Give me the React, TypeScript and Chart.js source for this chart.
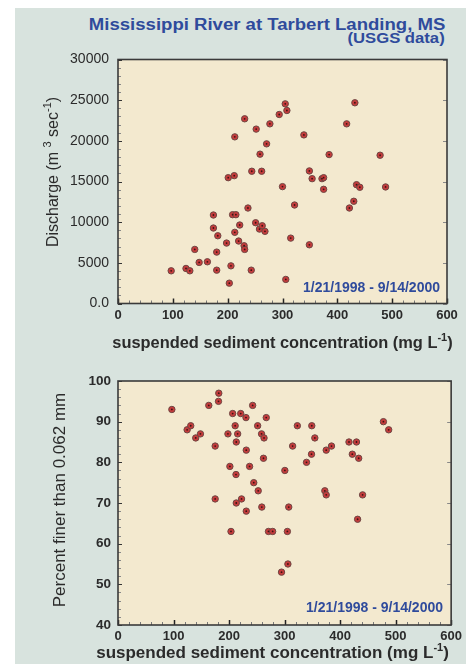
import { useEffect, useRef } from 'react';
import { Chart, registerables } from 'chart.js';

Chart.register(...registerables);

// ---------- data ----------
const topConcentration = [
  97, 124, 131, 140, 148, 163, 174, 174, 182, 180, 180, 198, 201, 212, 213, 209, 215, 213, 222, 220,
  206, 203, 231, 230, 231, 237, 243, 244, 252, 251, 259, 262, 258, 263, 268, 271, 277, 294, 300, 305,
  308, 306, 322, 315, 339, 349, 349, 354, 385, 372, 375, 375, 417, 432, 435, 441, 430, 422, 478, 488,
];
const topDischarge = [
  4020, 4310, 4020, 6650, 5050, 5130, 10880, 9280, 8330, 6320, 4100, 7430, 15470, 15720, 20490, 10920, 10920, 8750, 9650, 7680,
  4630, 2500, 22710, 7100, 6650, 11740, 4100, 16260, 21440, 9930, 18360, 16260, 9150, 9560, 8870, 19630, 22090, 23240, 14370, 24550,
  23730, 2960, 12110, 8040, 20730, 7220, 16300, 15350, 18310, 15350, 15470, 14040, 22090, 24680, 14610, 14290, 12570, 11740, 18230, 14330,
];

const bottomConcentration = [
  97, 124.5, 131, 140, 148.5, 163.5, 181.5, 181, 175, 175, 198, 206.5, 211, 215.5, 213, 221, 230.5, 231, 242.5, 201.5,
  212.5, 237, 251.5, 258.5, 263, 267, 262, 244.5, 252.5, 222.5, 213, 231, 259, 203.5, 271, 278.5, 300.5, 307.5, 305, 306,
  294.5, 314.5, 323, 349, 354.5, 348.5, 339.5, 375, 384.5, 372.5, 375, 416, 429.5, 422, 433.5, 440.5, 431.5, 478, 487.5,
];
const bottomPercentFiner = [
  93, 88, 89, 86, 87, 94, 97, 95, 84, 71, 87, 92, 89, 87, 85, 92, 91, 83, 94, 79,
  77, 79, 89, 87, 86, 91, 81, 75, 73, 71, 70, 68, 69, 63, 63, 63, 78, 69, 63, 55,
  53, 84, 89, 89, 86, 82, 80, 83, 84, 73, 72, 85, 85, 82, 81, 72, 66, 90, 88,
];

const xTickLabels = ['0', '100', '200', '300', '400', '500', '600'];
const topYTickLabels = ['0.0', '5000', '10000', '15000', '20000', '25000', '30000'];
const bottomYTickLabels = ['40', '50', '60', '70', '80', '90', '100'];

const mainTitle = 'Mississippi River at Tarbert Landing, MS';
const subTitle = '(USGS data)';
const dateRange = '1/21/1998 - 9/14/2000';

// ---------- styling ----------
const FONT = 'Arial, "Liberation Sans", Helvetica, sans-serif';
const PANEL_BG = '#d8e3de';
const PLOT_BG = '#f3e9cf';
const BLUE = '#2f4b9c';
const TEXT = '#2b2b2b';

type Part = { t: string; sup?: boolean };

function drawRich(ctx: CanvasRenderingContext2D, parts: Part[], x: number, y: number, size: number, weight: string, align: 'left' | 'center' | 'right', color: string) {
  const supSize = Math.round(size * 0.66);
  const widths = parts.map((p) => {
    ctx.font = `${weight} ${p.sup ? supSize : size}px ${FONT}`;
    return ctx.measureText(p.t).width;
  });
  const total = widths.reduce((a, b) => a + b, 0);
  let cx = align === 'center' ? x - total / 2 : align === 'right' ? x - total : x;
  ctx.textAlign = 'left';
  ctx.textBaseline = 'alphabetic';
  ctx.fillStyle = color;
  parts.forEach((p, i) => {
    ctx.font = `${weight} ${p.sup ? supSize : size}px ${FONT}`;
    ctx.fillText(p.t, cx, p.sup ? y - size * 0.42 : y);
    cx += widths[i];
  });
}

const decorPlugin = {
  id: 'decor',
  beforeDraw(chart: any) {
    const { ctx, chartArea: a } = chart;
    ctx.save();
    ctx.fillStyle = PLOT_BG;
    ctx.fillRect(a.left, a.top, a.right - a.left, a.bottom - a.top);
    ctx.restore();
  },
  afterDatasetsDraw(chart: any, _args: any, opts: any) {
    const { ctx, chartArea: a } = chart;
    ctx.save();
    // centre dots of markers
    const meta = chart.getDatasetMeta(0);
    ctx.fillStyle = '#3c1414';
    meta.data.forEach((el: any) => {
      ctx.beginPath();
      ctx.arc(el.x, el.y, 0.9, 0, Math.PI * 2);
      ctx.fill();
    });
    // inward ticks
    const xs = chart.scales.x;
    const ys = chart.scales.y;
    const isMajor = (v: number, step: number) => Math.abs(v / step - Math.round(v / step)) < 1e-6;
    for (let v = xs.min; v <= xs.max + 1e-6; v += opts.xMinor) {
      const px = Math.round(xs.getPixelForValue(v)) + 0.5;
      const major = isMajor(v, opts.xMajor);
      ctx.strokeStyle = major ? '#222' : '#777';
      ctx.lineWidth = major ? 1.5 : 1;
      ctx.beginPath();
      ctx.moveTo(px, a.bottom);
      ctx.lineTo(px, a.bottom - (major ? 5 : 3));
      ctx.stroke();
    }
    for (let v = ys.min; v <= ys.max + 1e-6; v += opts.yMinor) {
      const py = Math.round(ys.getPixelForValue(v)) + 0.5;
      const major = isMajor(v, opts.yMajor);
      ctx.strokeStyle = major ? '#333' : '#888';
      ctx.lineWidth = 1;
      ctx.beginPath();
      ctx.moveTo(a.left, py);
      ctx.lineTo(a.left + (major ? 4 : 3), py);
      ctx.stroke();
      if (major) {
        ctx.strokeStyle = '#888';
        ctx.beginPath();
        ctx.moveTo(a.right, py);
        ctx.lineTo(a.right - 4, py);
        ctx.stroke();
      }
    }
    // frame
    ctx.strokeStyle = '#3a3a3a';
    ctx.lineWidth = 1.6;
    ctx.strokeRect(a.left, a.top, a.right - a.left, a.bottom - a.top);
    // texts
    const yt = opts.yTitle;
    ctx.save();
    ctx.translate(yt.x, yt.y);
    ctx.rotate(-Math.PI / 2);
    drawRich(ctx, yt.parts, 0, yt.size * 0.36, yt.size, yt.weight, 'center', TEXT);
    ctx.restore();
    const xt = opts.xTitle;
    drawRich(ctx, xt.parts, xt.x, xt.y + xt.size * 0.36, xt.size, xt.weight, 'center', TEXT);
    const d = opts.date;
    drawRich(ctx, [{ t: dateRange }], d.x, d.y + d.size * 0.36, d.size, 'bold', 'right', BLUE);
    ctx.restore();
  },
};

function makeConfig(xs: number[], ys: number[], p: any) {
  return {
    type: 'scatter' as const,
    data: {
      datasets: [
        {
          data: xs.map((x, i) => ({ x, y: ys[i] })),
          backgroundColor: '#c63b3b',
          borderColor: '#6e4844',
          borderWidth: 1,
          pointRadius: 3.2,
          pointHoverRadius: 3.2,
        },
      ],
    },
    options: {
      animation: false as const,
      responsive: false,
      events: [],
      layout: { padding: p.padding },
      plugins: {
        legend: { display: false },
        tooltip: { enabled: false },
        decor: p.decor,
      },
      scales: {
        x: {
          type: 'linear' as const,
          min: 0,
          max: 600,
          grid: { display: false, drawTicks: false },
          border: { display: false },
          ticks: {
            stepSize: 100,
            padding: p.xPad,
            color: TEXT,
            font: { family: FONT, size: 13, weight: 'bold' as const },
            callback: (_v: any, i: number) => xTickLabels[i],
          },
          afterFit: (s: any) => {
            s.height = p.xHeight;
          },
        },
        y: {
          type: 'linear' as const,
          min: p.yMin,
          max: p.yMax,
          grid: { display: false, drawTicks: false },
          border: { display: false },
          ticks: {
            stepSize: p.yStep,
            padding: p.yPad,
            color: TEXT,
            font: { family: FONT, size: p.yFontSize, weight: p.yFontWeight },
            callback: (_v: any, i: number) => p.yLabels[i],
          },
          afterFit: (s: any) => {
            s.width = p.yWidth;
          },
        },
      },
    },
    plugins: [decorPlugin],
  };
}

export default function App() {
  const topRef = useRef<HTMLCanvasElement>(null);
  const botRef = useRef<HTMLCanvasElement>(null);

  useEffect(() => {
    const top = new Chart(
      topRef.current as HTMLCanvasElement,
      makeConfig(topConcentration, topDischarge, {
        padding: { top: 59.5, right: 19, left: 0, bottom: 0 },
        xHeight: 360 - 303.5,
        yWidth: 118,
        xPad: 4,
        yPad: 9,
        yMin: 0,
        yMax: 30000,
        yStep: 5000,
        yLabels: topYTickLabels,
        yFontSize: 14,
        yFontWeight: 'normal',
        decor: {
          xMinor: 20,
          xMajor: 100,
          yMinor: 1000,
          yMajor: 5000,
          yTitle: { x: 52, y: 172, size: 16, weight: 'normal', parts: [{ t: 'Discharge (m ' }, { t: '3', sup: true }, { t: ' sec' }, { t: '-1', sup: true }, { t: ')' }] },
          xTitle: { x: 282.5, y: 342, size: 16.4, weight: 'bold', parts: [{ t: 'suspended sediment concentration (mg L' }, { t: '-1', sup: true }, { t: ')' }] },
          date: { x: 440, y: 287, size: 14 },
        },
      }) as any
    );
    const bottom = new Chart(
      botRef.current as HTMLCanvasElement,
      makeConfig(bottomConcentration, bottomPercentFiner, {
        padding: { top: 21, right: 14, left: 0, bottom: 0 },
        xHeight: 39,
        yWidth: 118,
        xPad: 4,
        yPad: 7,
        yMin: 40,
        yMax: 100,
        yStep: 10,
        yLabels: bottomYTickLabels,
        yFontSize: 13.5,
        yFontWeight: 'bold',
        decor: {
          xMinor: 20,
          xMajor: 100,
          yMinor: 2,
          yMajor: 10,
          yTitle: { x: 59, y: 140, size: 17, weight: 'normal', parts: [{ t: 'Percent finer than 0.062 mm' }] },
          xTitle: { x: 272.5, y: 292, size: 17, weight: 'bold', parts: [{ t: 'suspended sediment concentration (mg L' }, { t: '-1', sup: true }, { t: ')' }] },
          date: { x: 443, y: 247, size: 14 },
        },
      }) as any
    );
    return () => {
      top.destroy();
      bottom.destroy();
    };
  }, []);

  const titleBase = {
    position: 'absolute' as const,
    right: 21,
    fontFamily: FONT,
    fontWeight: 'bold' as const,
    color: BLUE,
    whiteSpace: 'nowrap' as const,
    transformOrigin: '100% 50%',
  };

  return (
    <div style={{ position: 'fixed', left: 0, top: 0, width: 466, height: 664, background: '#ffffff', overflow: 'hidden' }}>
      <div style={{ position: 'absolute', left: 15, top: 8, right: 0, bottom: 0, background: PANEL_BG }} />
      <div style={{ ...titleBase, top: 16.5, fontSize: 16, lineHeight: '16px', transform: 'scaleX(1.16)' }}>{mainTitle}</div>
      <div style={{ ...titleBase, top: 30.5, fontSize: 14, lineHeight: '14px', transform: 'scaleX(1.19)' }}>{subTitle}</div>
      <canvas ref={topRef} width={466} height={360} style={{ position: 'absolute', left: 0, top: 0, width: 466, height: 360 }} />
      <canvas ref={botRef} width={466} height={304} style={{ position: 'absolute', left: 0, top: 360, width: 466, height: 304 }} />
    </div>
  );
}
